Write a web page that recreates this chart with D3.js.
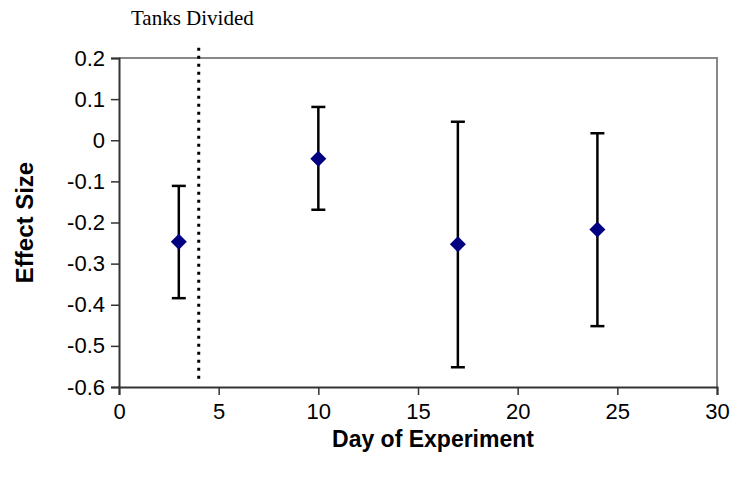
<!DOCTYPE html>
<html><head><meta charset="utf-8">
<script src="https://cdn.jsdelivr.net/npm/d3@7"></script>
<style>body{margin:0;background:#fff}svg{display:block}</style>
</head><body>
<script>
const days = [3, 10, 17, 24];
const effect = [-0.247, -0.045, -0.253, -0.217];
const upper = [-0.111, 0.081, 0.045, 0.017];
const lower = [-0.384, -0.169, -0.552, -0.452];
const xTicks = [0, 5, 10, 15, 20, 25, 30];
const yTicks = [0.2, 0.1, 0, -0.1, -0.2, -0.3, -0.4, -0.5, -0.6];
const divideDay = 4;
const divideRange = [0.225, -0.585];
const annotation = "Tanks Divided";

const W = 736, H = 489;
const m = {left: 119, right: 717, top: 58, bottom: 387};
const svg = d3.select("body").append("svg").attr("width", W).attr("height", H);
const x = d3.scaleLinear().domain([0, 30]).range([m.left, m.right]);
const y = d3.scaleLinear().domain([-0.6, 0.2]).range([m.bottom, m.top]);

svg.append("path")
  .attr("d", `M${x(0)},${y(0.2)}H${x(30)}V${y(-0.6)}`)
  .attr("fill", "none").attr("stroke", "#888").attr("stroke-width", 2);

const fmt = d => d === 0 ? "0" : d.toFixed(1);

const yAxis = svg.append("g").attr("transform", `translate(${x(0)},0)`)
  .call(d3.axisLeft(y).tickValues(yTicks).tickFormat(fmt).tickSize(8).tickPadding(6));
const xAxis = svg.append("g").attr("transform", `translate(0,${y(-0.6)})`)
  .call(d3.axisBottom(x).tickValues(xTicks).tickFormat(d => String(d)).tickSize(8).tickPadding(8));
[yAxis, xAxis].forEach(g => {
  g.attr("font-size", null).attr("font-family", null);
  g.select(".domain").attr("stroke", "#333").attr("stroke-width", 2);
  g.selectAll(".tick line").attr("stroke", "#333").attr("stroke-width", 1.5);
  g.selectAll("text").style("font-family", "'Liberation Sans', Arial, sans-serif")
    .style("font-size", "22px").attr("fill", "#000");
});

svg.append("line")
  .attr("x1", x(divideDay)).attr("x2", x(divideDay))
  .attr("y1", y(divideRange[0])).attr("y2", y(divideRange[1]))
  .attr("stroke", "#000").attr("stroke-width", 3).attr("stroke-dasharray", "3,5");

svg.append("text").attr("x", 131).attr("y", 25)
  .style("font-family", "'Liberation Serif', 'Times New Roman', serif").style("font-size", "21px")
  .text(annotation);

const data = days.map((d, i) => ({d, v: effect[i], hi: upper[i], lo: lower[i]}));
const eb = svg.append("g").attr("stroke", "#000").attr("stroke-width", 2.5);
data.forEach(p => {
  eb.append("line").attr("x1", x(p.d)).attr("x2", x(p.d)).attr("y1", y(p.hi)).attr("y2", y(p.lo));
  [p.hi, p.lo].forEach(v => eb.append("line")
    .attr("x1", x(p.d) - 7).attr("x2", x(p.d) + 7).attr("y1", y(v)).attr("y2", y(v)));
});
svg.append("g").selectAll("path").data(data).join("path")
  .attr("d", p => `M${x(p.d)},${y(p.v) - 8}L${x(p.d) + 8},${y(p.v)}L${x(p.d)},${y(p.v) + 8}L${x(p.d) - 8},${y(p.v)}Z`)
  .attr("fill", "#000080");

svg.append("text").attr("x", 433).attr("y", 447)
  .attr("text-anchor", "middle").style("font-family", "'Liberation Sans', Arial, sans-serif")
  .style("font-weight", "bold").style("font-size", "23px").text("Day of Experiment");
svg.append("text")
  .attr("transform", `translate(33,${(m.top + m.bottom) / 2}) rotate(-90)`)
  .attr("text-anchor", "middle").style("font-family", "'Liberation Sans', Arial, sans-serif")
  .style("font-weight", "bold").style("font-size", "24px").text("Effect Size");
</script>
</body></html>
